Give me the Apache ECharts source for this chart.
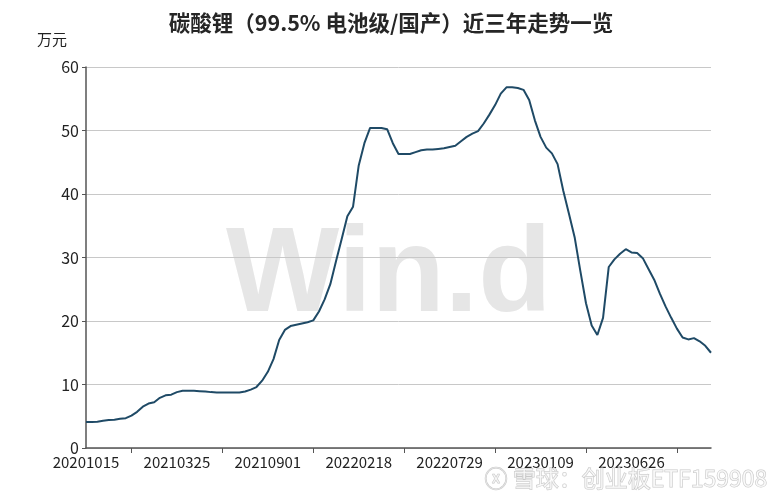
<!DOCTYPE html>
<html>
<head>
<meta charset="utf-8">
<script src="https://cdn.jsdelivr.net/npm/echarts@6/dist/echarts.min.js"></script>
<style>html,body{margin:0;padding:0;background:#fff}#c{width:782px;height:500px}</style>
</head>
<body>
<div id="c"></div>
<script>
var titleText = '碳酸锂（99.5% 电池级/国产）近三年走势一览';
var unitText = '万元';
var yTicks = [0, 10, 20, 30, 40, 50, 60];
var dates = [
'20201015','20201026','20201104','20201113','20201124','20201203','20201214','20201223','20210104','20210113','20210122','20210202','20210218','20210226','20210308','20210316',
'20210325','20210402','20210413','20210422','20210506','20210517','20210526','20210604','20210616','20210625','20210706','20210715','20210726','20210804','20210813','20210824',
'20210901','20210910','20210922','20211008','20211019','20211028','20211108','20211117','20211126','20211207','20211216','20211227','20220106','20220117','20220126','20220209',
'20220218','20220301','20220310','20220321','20220330','20220411','20220420','20220429','20220512','20220523','20220601','20220613','20220622','20220701','20220712','20220721',
'20220729','20220809','20220818','20220829','20220907','20220919','20220928','20221013','20221024','20221102','20221111','20221122','20221201','20221212','20221221','20221230',
'20230109','20230118','20230201','20230210','20230221','20230302','20230313','20230322','20230331','20230412','20230421','20230504','20230515','20230524','20230602','20230613',
'20230626','20230705','20230714','20230725','20230803','20230814','20230823','20230901','20230912','20230921','20231009','20231018','20231027','20231107','20231116'
];
var prices = [
4.1,4.1,4.15,4.3,4.4,4.45,4.6,4.7,5.1,5.7,6.5,7.0,7.2,7.9,8.3,8.4,
8.8,9.0,9.0,9.0,8.95,8.9,8.8,8.75,8.75,8.75,8.75,8.75,8.9,9.2,9.6,10.6,
12.0,14.0,17.0,18.6,19.2,19.4,19.6,19.8,20.1,21.5,23.4,25.8,29.4,32.9,36.5,38.0,
44.5,48.0,50.4,50.4,50.4,50.2,48.0,46.3,46.3,46.3,46.6,46.9,47.0,47.0,47.1,47.2,
47.4,47.6,48.3,49.0,49.5,49.9,51.1,52.5,54.0,55.8,56.8,56.8,56.7,56.4,54.8,51.6,
49.0,47.3,46.4,44.7,40.5,36.9,33.2,27.9,22.8,19.3,17.8,20.5,28.5,29.7,30.6,31.3,
30.8,30.7,29.9,28.2,26.5,24.3,22.3,20.5,18.8,17.4,17.1,17.3,16.8,16.1,15.0
];
var watermark = 'Win.d';
var sourceText = '雪球：创业板ETF159908';

var chart = echarts.init(document.getElementById('c'), null, {renderer: 'canvas'});
var F = '"Noto Sans CJK SC", "Noto Sans", sans-serif';
chart.setOption({
  animation: false,
  backgroundColor: '#fff',
  title: {
    text: titleText, left: 'center', top: 7,
    textStyle: {fontFamily: F, fontSize: 21.5, fontWeight: 'bold', color: '#262626'}
  },
  graphic: [
    {type: 'text', left: 37, top: 32, z: 10, style: {text: unitText, fontFamily: F, fontSize: 15, fill: '#222'}},
    {type: 'text', left: 226, top: 218, z: 0, silent: true,
     style: {text: watermark, fontFamily: '"Liberation Sans", Arial, sans-serif', fontSize: 120, fontWeight: 'bold', fill: '#e6e6e6'}},
    {type: 'text', left: 484, top: 466, z: 10, silent: true,
     style: {text: '\u24e7 ' + sourceText, fontFamily: F, fontSize: 23, fill: 'rgba(255,255,255,0.6)', stroke: '#c8c8c8', lineWidth: 1}}
  ],
  grid: {left: 86, right: 71, top: 67, bottom: 52, containLabel: false},
  xAxis: {
    type: 'category', data: dates, boundaryGap: false,
    axisLine: {show: true, lineStyle: {color: '#555', width: 1.5}},
    axisTick: {show: true, length: 5, interval: function (i) { return i % 16 === 8; }, lineStyle: {color: '#555'}},
    axisLabel: {interval: function (i) { return i % 16 === 0; }, fontFamily: F, fontSize: 15, color: '#222', margin: 7},
    splitLine: {show: false}
  },
  yAxis: {
    type: 'value', min: yTicks[0], max: yTicks[yTicks.length - 1], interval: 10,
    axisLine: {show: true, lineStyle: {color: '#555', width: 1.5}},
    axisTick: {show: true, length: 4, lineStyle: {color: '#555'}},
    axisLabel: {fontFamily: F, fontSize: 16, color: '#222', margin: 7},
    splitLine: {show: true, lineStyle: {color: '#c8c8c8', width: 1}}
  },
  series: [{
    type: 'line', data: prices, showSymbol: false, smooth: false, z: 5,
    lineStyle: {color: '#1f4a66', width: 2}
  }]
});
</script>
</body>
</html>
